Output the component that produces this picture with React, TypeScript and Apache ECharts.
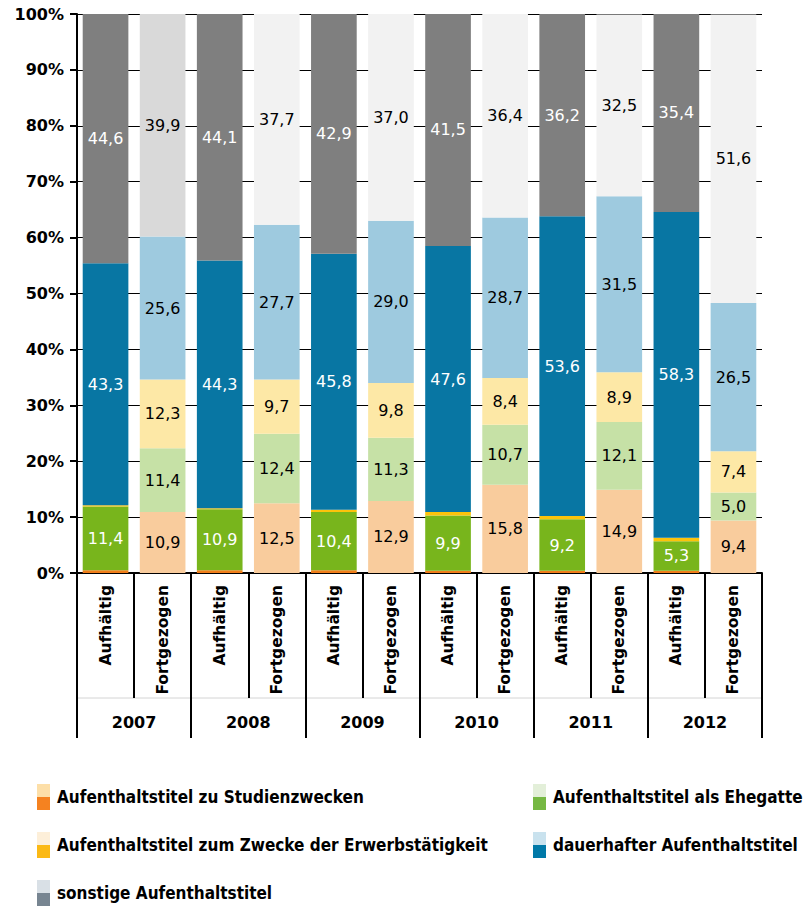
import React, { useEffect, useRef } from "react";
import * as echarts from "echarts";

const categories = [
  "Aufhältig", "Fortgezogen", "Aufhältig", "Fortgezogen", "Aufhältig", "Fortgezogen",
  "Aufhältig", "Fortgezogen", "Aufhältig", "Fortgezogen", "Aufhältig", "Fortgezogen",
];
const years = ["2007", "2008", "2009", "2010", "2011", "2012"];
const yTicks = [0, 10, 20, 30, 40, 50, 60, 70, 80, 90, 100];

const studien = [0.5, 10.9, 0.5, 12.5, 0.5, 12.9, 0.4, 15.8, 0.4, 14.9, 0.4, 9.4];
const ehegatte = [11.4, 11.4, 10.9, 12.4, 10.4, 11.3, 9.9, 10.7, 9.2, 12.1, 5.3, 5.0];
const erwerb = [0.2, 12.3, 0.2, 9.7, 0.4, 9.8, 0.6, 8.4, 0.6, 8.9, 0.6, 7.4];
const dauerhaft = [43.3, 25.6, 44.3, 27.7, 45.8, 29.0, 47.6, 28.7, 53.6, 31.5, 58.3, 26.5];
const sonstige = [44.6, 39.9, 44.1, 37.7, 42.9, 37.0, 41.5, 36.4, 36.2, 32.5, 35.4, 51.6];

const seriesNames = [
  "Aufenthaltstitel zu Studienzwecken",
  "Aufenthaltstitel als Ehegatte",
  "Aufenthaltstitel zum Zwecke der Erwerbstätigkeit",
  "dauerhafter Aufenthaltstitel",
  "sonstige Aufenthaltstitel",
];
// [dark (Aufhältig), light (Fortgezogen)]
const barColors = [
  ["#f07d1a", "#f9cc9d"],
  ["#78b51c", "#c6e1a6"],
  ["#fcc30b", "#fde8a6"],
  ["#0876a3", "#9ecadf"],
  ["#7f7f7f", "#f2f2f2"],
];
const legendColors = [
  ["#fddfa8", "#f58220"],
  ["#e3efd9", "#76b843"],
  ["#fdefd9", "#fbb915"],
  ["#c9e2ee", "#0079a8"],
  ["#d9e0e6", "#778591"],
];

const W = 807;
const H = 908;
const GL = 77;
const GR = 762;
const GT = 14;
const GB = 573;

export default function App() {
  const ref = useRef<HTMLDivElement>(null);
  useEffect(() => {
    if (!ref.current) return;
    const chart = echarts.init(ref.current, undefined, { renderer: "svg" });
    const dataSets = [studien, ehegatte, erwerb, dauerhaft, sonstige];
    const series = dataSets.map((arr, si) => ({
      name: seriesNames[si],
      type: "bar",
      stack: "total",
      barCategoryGap: "20%",
      xAxisIndex: 0,
      data: arr.map((v, i) => {
        let color = barColors[si][i % 2];
        if (si === 4 && i === 1) color = "#d9d9d9";
        return {
          value: v,
          itemStyle: { color },
          label: {
            show: v >= 2,
            color: i % 2 === 0 ? "#ffffff" : "#000000",
          },
        };
      }),
      label: {
        position: "inside",
        fontFamily: "DejaVu Sans",
        fontSize: 16,
        formatter: (p: any) => p.value.toFixed(1).replace(".", ","),
      },
    }));

    const legendItems: any[] = [];
    const legendPos = [
      [37, 797], [533, 797], [37, 845], [533, 845], [37, 893],
    ];
    const order = [0, 1, 2, 3, 4];
    order.forEach((si, k) => {
      const [x, y] = legendPos[k];
      legendItems.push({
        type: "rect",
        shape: { x, y: y - 13, width: 13, height: 13 },
        style: { fill: legendColors[si][0] },
      });
      legendItems.push({
        type: "rect",
        shape: { x, y: y, width: 13, height: 13 },
        style: { fill: legendColors[si][1] },
      });
      legendItems.push({
        type: "text",
        x: x + 20,
        y: y,
        style: {
          text: seriesNames[si],
          font: 'bold 17px "DejaVu Sans Condensed", "Liberation Sans Narrow", sans-serif',
          fill: "#000",
          verticalAlign: "middle",
          align: "left",
        },
      });
    });

    chart.setOption({
      animation: false,
      grid: { left: GL, right: W - GR, top: GT, bottom: H - GB, containLabel: false },
      xAxis: [
        {
          type: "category",
          data: categories,
          position: "bottom",
          axisLine: { show: true, lineStyle: { color: "#000", width: 2 } },
          axisTick: { show: true, interval: 0, length: 125, lineStyle: { color: "#000", width: 2 } },
          axisLabel: {
            interval: 0,
            rotate: 90,
            margin: 12,
            color: "#000",
            fontWeight: "bold",
            fontSize: 15.5,
            fontFamily: "DejaVu Sans",
          },
        },
        {
          type: "category",
          data: years,
          position: "bottom",
          axisLine: { show: false },
          axisTick: { show: true, interval: 0, length: 165, lineStyle: { color: "#000", width: 2 } },
          axisLabel: {
            interval: 0,
            margin: 141,
            color: "#000",
            fontWeight: "bold",
            fontSize: 16,
            fontFamily: "DejaVu Sans",
          },
        },
      ],
      yAxis: {
        type: "value",
        min: 0,
        max: 100,
        interval: 10,
        axisLine: { show: true, lineStyle: { color: "#000", width: 2 } },
        axisTick: { show: true, length: 7, lineStyle: { color: "#000", width: 2 } },
        splitLine: { show: true, lineStyle: { color: "#000", width: 1 } },
        axisLabel: {
          color: "#000",
          fontWeight: "bold",
          fontSize: 16,
          fontFamily: "DejaVu Sans",
          margin: 13,
          formatter: (v: number) => (yTicks.includes(v) ? `${v}%` : ""),
        },
      },
      series: [
        ...series,
        {
          type: "bar",
          xAxisIndex: 1,
          data: years.map(() => 0),
          silent: true,
          itemStyle: { color: "transparent" },
        },
      ],
      graphic: [
        {
          type: "line",
          z: -1,
          shape: { x1: GL, y1: 698, x2: GR, y2: 698 },
          style: { stroke: "#d4d4d4", lineWidth: 1 },
        },
        ...legendItems,
      ],
    });
    return () => chart.dispose();
  }, []);
  return (
    <div
      ref={ref}
      style={{ position: "fixed", left: 0, top: 0, width: W, height: H, background: "#fff" }}
    />
  );
}
